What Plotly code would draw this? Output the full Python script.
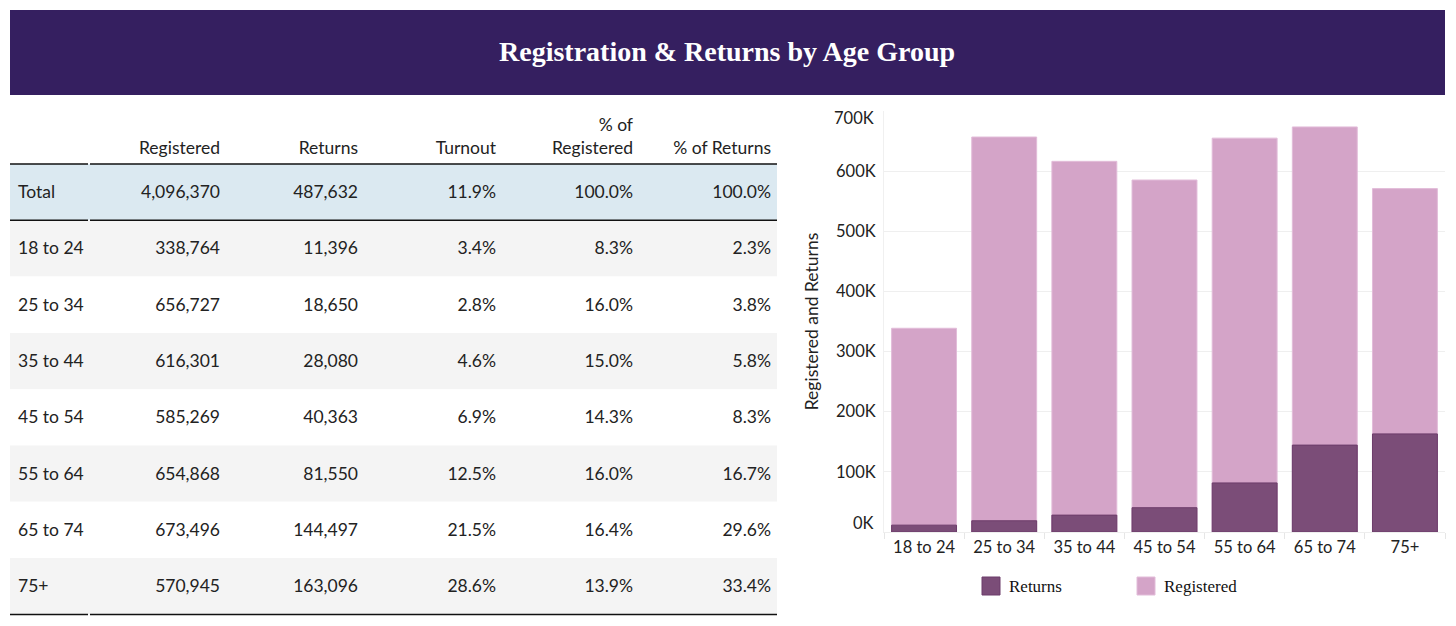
import plotly.graph_objects as go

W, H = 1456, 626

# ---- data ----
age_groups = ["18 to 24", "25 to 34", "35 to 44", "45 to 54", "55 to 64", "65 to 74", "75+"]
registered = [338764, 656727, 616301, 585269, 654868, 673496, 570945]
returns = [11396, 18650, 28080, 40363, 81550, 144497, 163096]
turnout = ["3.4%", "2.8%", "4.6%", "6.9%", "12.5%", "21.5%", "28.6%"]
pct_registered = ["8.3%", "16.0%", "15.0%", "14.3%", "16.0%", "16.4%", "13.9%"]
pct_returns = ["2.3%", "3.8%", "5.8%", "8.3%", "16.7%", "29.6%", "33.4%"]
total_row = ["Total", "4,096,370", "487,632", "11.9%", "100.0%", "100.0%"]
header_line1 = ["", "", "", "", "% of", ""]
header_line2 = ["", "Registered", "Returns", "Turnout", "Registered", "% of Returns"]
y_ticks = [0, 100000, 200000, 300000, 400000, 500000, 600000, 700000]
y_tick_labels = ["0K", "100K", "200K", "300K", "400K", "500K", "600K", "700K"]

TITLE = "Registration & Returns by Age Group"
C_REG = "#d4a4c8"
C_RET = "#7b4d78"

def px(x):
    return x / W

def py(y):
    return 1 - y / H

# ---- table ----
col0 = [total_row[0]] + age_groups
col1 = [total_row[1]] + [f"{v:,}" for v in registered]
col2 = [total_row[2]] + [f"{v:,}" for v in returns]
col3 = [total_row[3]] + turnout
col4 = [total_row[4]] + pct_registered
col5 = [total_row[5]] + pct_returns
n_rows = len(col0)
row_fill = ["#dbe9f1"] + ["#f4f4f4" if i % 2 == 0 else "#ffffff" for i in range(len(age_groups))]

rows_top, row_h = 164, 56.3       # top of first body row, row height (px)
text_drop = 13                    # table text is top-aligned; shift so it sits mid-row
spacer_h = 20                     # empty (invisible) header of body table
head_top, head_row_h = 110, 23
tbl_left, tbl_right = 10, 777
col_w = [100, 118, 138, 138, 137, 138]
tbl_text_right = tbl_left + sum(col_w)
FONT = dict(family="Lato", size=17.5, color="#222222")
NOLINE = dict(color="rgba(0,0,0,0)", width=0)
CLEAR = "rgba(0,0,0,0)"
aligns = ["left"] + ["right"] * 5

fig = go.Figure()
# header (two header rows so single-line labels sit on the lower line)
fig.add_trace(go.Table(
    domain=dict(x=[px(tbl_left), px(tbl_text_right)], y=[py(rows_top), py(head_top)]),
    columnwidth=col_w,
    header=dict(values=[[a, b] for a, b in zip(header_line1, header_line2)],
                align=aligns, fill_color=CLEAR, line=NOLINE, font=FONT, height=head_row_h),
    cells=dict(values=[[] for _ in header_line1], fill_color=CLEAR, line=NOLINE),
))
# body
fig.add_trace(go.Table(
    domain=dict(x=[px(tbl_left), px(tbl_text_right)],
                y=[0, py(rows_top + text_drop - spacer_h)]),
    columnwidth=col_w,
    header=dict(values=[""] * 6, fill_color=CLEAR, line=NOLINE,
                font=dict(family="Lato", size=2, color="white"), height=spacer_h),
    cells=dict(values=[col0, col1, col2, col3, col4, col5], align=aligns,
               fill_color=CLEAR, line=NOLINE, font=FONT, height=row_h),
))

shapes = []
# banner
shapes.append(dict(type="rect", xref="paper", yref="paper", x0=px(10), x1=px(1445),
                   y0=py(95), y1=py(10), fillcolor="#351f60", line=dict(width=0), layer="below"))
# row backgrounds
for i, fc in enumerate(row_fill):
    y0 = rows_top + i * row_h
    shapes.append(dict(type="rect", xref="paper", yref="paper", x0=px(tbl_left), x1=px(tbl_right),
                       y0=py(y0 + row_h), y1=py(y0), fillcolor=fc, line=dict(width=0), layer="below"))
# table rules
for yy in [rows_top, rows_top + row_h, rows_top + n_rows * row_h]:
    for xa, xb in [(tbl_left, 88), (90, tbl_right)]:
        shapes.append(dict(type="line", xref="paper", yref="paper", x0=px(xa), x1=px(xb),
                           y0=py(yy), y1=py(yy), line=dict(color="#111111", width=1.5)))

# ---- bar chart ----
fig.add_trace(go.Bar(x=age_groups, y=registered, name="Registered", marker=dict(color=C_REG,
                     line=dict(color="#e2bcd9", width=1)), showlegend=False))
fig.add_trace(go.Bar(x=age_groups, y=returns, name="Returns", marker=dict(color=C_RET,
                     line=dict(color="#6c3c6a", width=1)), showlegend=False))

TICKFONT = dict(family="Lato", size=16.5, color="#222222")
y_dom = [py(532), py(111)]
y_rng = [0, 700000]
label_right = 876
inner_labels = [t if 0 < v < y_rng[1] else "" for v, t in zip(y_ticks, y_tick_labels)]

# title + manual legend
annotations = [dict(text="<b>" + TITLE + "</b>", xref="paper", yref="paper", x=px(727), y=py(52),
                    showarrow=False, font=dict(family="Liberation Serif", size=28, color="white"),
                    xanchor="center", yanchor="middle")]
for lx, label, col, lc in [(982, "Returns", C_RET, "#6c3c6a"), (1137, "Registered", C_REG, "#e2bcd9")]:
    shapes.append(dict(type="rect", xref="paper", yref="paper", x0=px(lx), x1=px(lx + 18),
                       y0=py(595), y1=py(577), fillcolor=col, line=dict(color=lc, width=1)))
    annotations.append(dict(text=label, xref="paper", yref="paper", x=px(lx + 25), y=py(586),
                            showarrow=False, xanchor="left", yanchor="middle",
                            font=dict(family="Liberation Serif", size=17, color="#111111")))
# end tick labels pulled inward (flush), like the original
for v, t, shift in [(y_ticks[0], y_tick_labels[0], 9), (y_ticks[-1], y_tick_labels[-1], -7)]:
    annotations.append(dict(text=t, xref="paper", yref="y", x=px(label_right), y=v, yshift=shift,
                            showarrow=False, xanchor="right", yanchor="middle", font=TICKFONT))

fig.update_layout(
    width=W, height=H,
    margin=dict(l=0, r=0, t=0, b=0, autoexpand=False),
    paper_bgcolor="white", plot_bgcolor="white",
    showlegend=False,
    barmode="overlay", bargap=0.19,
    shapes=shapes, annotations=annotations,
    xaxis=dict(domain=[px(884), px(1445)], type="category", tickson="boundaries",
               ticks="outside", ticklen=6, tickcolor="#e6e6e6", showgrid=False,
               showline=True, linecolor="#eeeeee", automargin=False, tickfont=TICKFONT),
    yaxis=dict(domain=y_dom, range=y_rng, tickvals=y_ticks,
               ticktext=inner_labels, showgrid=True, gridcolor="#efefef", zeroline=False,
               ticks="", showline=True, linecolor="#f0f0f0", automargin=False,
               ticklabelstandoff=4, tickfont=TICKFONT,
               title=dict(text="Registered and Returns", standoff=12,
                          font=dict(family="Lato", size=17.5, color="#222222"))),
)

fig.write_html("out.html", config={"responsive": False, "displayModeBar": False},
               post_script="document.body.style.margin='0';")
